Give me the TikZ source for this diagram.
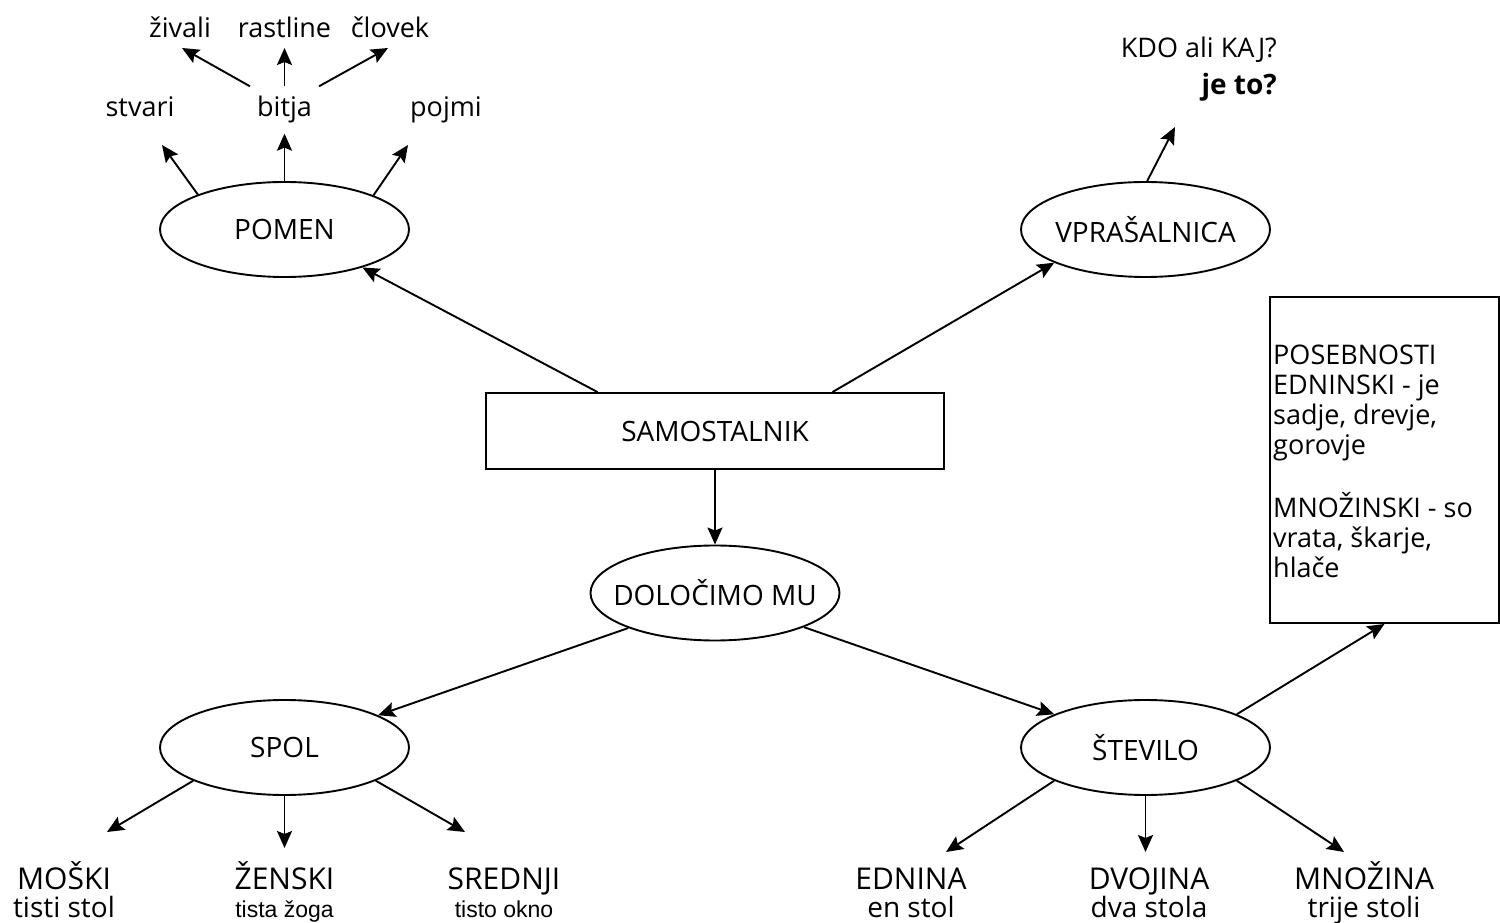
\documentclass[tikz,border=0pt]{standalone}
\usepackage{fontspec}
\setmainfont{Open Sans}
\newfontfamily\arialfont{Liberation Sans}
\usetikzlibrary{shapes.geometric,arrows.meta,calc}
\begin{document}
\begin{tikzpicture}[x=1pt,y=1pt,
  oval/.style={draw, ellipse, line width=1.9pt, minimum width=249pt, minimum height=95pt, inner sep=0pt},
  ovaltext/.style={font=\fontsize{28}{30}\selectfont, inner sep=0pt},
  box/.style={draw, rectangle, line width=1.9pt, inner sep=0pt, font=\fontsize{28}{30}\selectfont},
  conn/.style={line width=1.9pt, -{Stealth[length=17pt,width=15pt,inset=3pt]}},
  lbl/.style={font=\fontsize{27}{30}\selectfont, inner sep=0pt},
  botA/.style={font=\fontsize{30}{30}\selectfont, inner sep=0pt, anchor=base},
  botB/.style={font=\fontsize{28}{30}\selectfont, inner sep=0pt, anchor=base},
  botC/.style={font=\arialfont\fontsize{23}{26}\selectfont, inner sep=0pt, anchor=base},
]
\useasboundingbox (0,0) rectangle (1500,922);
\fill[white] (0,0) rectangle (1500,922);

% main nodes
\node[box, minimum width=458pt, minimum height=76pt] (sam) at (715,491) {SAMOSTALNIK};
\node[oval, label={[ovaltext]center:POMEN}] (pomen) at (284.5,692.5) {};
\node[oval, label={[ovaltext]center:VPRAŠALNICA}] (vpr) at (1145.5,692.5) {};
\node[oval, label={[ovaltext]center:DOLOČIMO MU}] (dol) at (715,329) {};
\node[oval, label={[ovaltext]center:SPOL}] (spol) at (284.5,174.5) {};
\node[oval, label={[ovaltext]center:ŠTEVILO}] (stev) at (1145.5,174.5) {};
\node[draw, rectangle, line width=1.9pt, minimum width=229pt, minimum height=326pt, inner sep=0pt] (pos) at (1384.5,462) {};
\node[lbl, anchor=north west, align=left] (postext) at (1273,577)
  {POSEBNOSTI\\EDNINSKI - je\\sadje, drevje,\\gorovje\\[30pt]MNOŽINSKI - so\\vrata, škarje,\\hlače};

% top labels
\node[lbl, anchor=base] (stvari) at (140,805) {stvari};
\node[lbl, anchor=base, inner xsep=7pt, inner ysep=10pt] (bitja) at (284.5,805) {bitja};
\node[lbl, anchor=base] (pojmi) at (446,805) {pojmi};
\node[lbl, anchor=base] (zivali) at (180,884) {živali};
\node[lbl, anchor=base] (rastline) at (284.5,884) {rastline};
\node[lbl, anchor=base] (clovek) at (390,884) {človek};
\node[lbl, anchor=base east] (kdo) at (1277,864) {KDO ali KAJ?};
\node[font=\bfseries\fontsize{28}{30}\selectfont, inner sep=0pt, anchor=base east] (jeto) at (1277,827) {je to?};

% bottom labels
\node[botA] (moski) at (64,33) {MOŠKI};
\node[botB] (moskiex) at (64,5) {tisti stol};
\node[botA] (zenski) at (284.5,33) {ŽENSKI};
\node[botC] (zenskiex) at (284.5,5) {tista žoga};
\node[botA] (srednji) at (504,33) {SREDNJI};
\node[botC] (srednjiex) at (504,5) {tisto okno};
\node[botA] (ednina) at (911,33) {EDNINA};
\node[botB] (edninaex) at (911,5) {en stol};
\node[botA] (dvojina) at (1149,33) {DVOJINA};
\node[botB] (dvojinaex) at (1149,5) {dva stola};
\node[botA] (mnozina) at (1364,33) {MNOŽINA};
\node[botB] (mnozinaex) at (1364,5) {trije stoli};

% free arrow ends
\coordinate (stvariT) at (162,777);
\coordinate (pojmiT) at (408,777);
\coordinate (zivaliT) at (182,874);
\coordinate (rastlineT) at (284.5,874);
\coordinate (clovekT) at (388,874);
\coordinate (vprT) at (1175,795);
\coordinate (moskiT) at (107,90);
\coordinate (zenskiT) at (284.5,74);
\coordinate (srednjiT) at (465,90);
\coordinate (edninaT) at (946,70);
\coordinate (dvojinaT) at (1145.5,70);
\coordinate (mnozinaT) at (1344,70);

% connectors
\draw[conn] ($(sam.north west)!0.2445!(sam.north east)$) -- (pomen.-26.4);
\draw[conn] ($(sam.north west)!0.7555!(sam.north east)$) -- (vpr.200.7);
\draw[conn] (sam.south) -- (dol.north);
\draw[conn] (dol.202.5) -- (spol.19.8);
\draw[conn] (dol.-21) -- (stev.160.2);
\draw[conn] (stev.20.7) -- (pos.south);

\draw[conn] (pomen.158.4) -- (stvariT);
\draw[conn] (pomen.north) -- (bitja.south);
\draw[conn] (pomen.21.1) -- (pojmiT);
\draw[conn] (bitja.north west) -- (zivaliT);
\draw[conn] (bitja.north) -- (rastlineT);
\draw[conn] (bitja.north east) -- (clovekT);
\draw[conn] (vpr.88) -- (vprT);

\draw[conn] (spol.200.7) -- (moskiT);
\draw[conn] (spol.south) -- (zenskiT);
\draw[conn] (spol.-20.7) -- (srednjiT);
\draw[conn] (stev.200.7) -- (edninaT);
\draw[conn] (stev.south) -- (dvojinaT);
\draw[conn] (stev.-20.7) -- (mnozinaT);
\end{tikzpicture}
\end{document}
